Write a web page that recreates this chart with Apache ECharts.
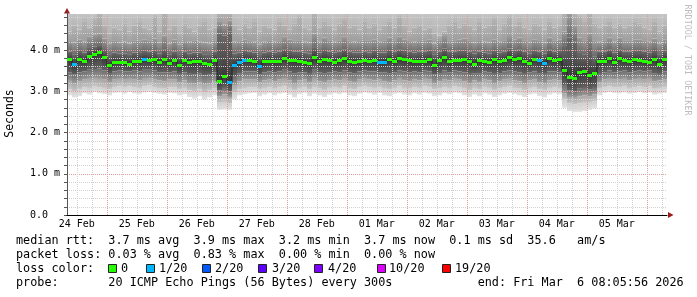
<!DOCTYPE html>
<html><head><meta charset="utf-8">
<script src="https://cdn.jsdelivr.net/npm/echarts@6/dist/echarts.min.js"></script>
<style>html,body{margin:0;padding:0;background:#fff}#c{width:697px;height:297px}</style>
</head><body><div id="c"></div>
<script>
// ---- time axis (hours since 24 Feb 00:00) ----
const startHour = 8 + 5/60 + 56/3600;   // 24 Feb 08:05:56
const spanHours = 240;                  // 10 days
const stepHours = 2;
const dayLabels = ['24 Feb','25 Feb','26 Feb','27 Feb','28 Feb','01 Mar','02 Mar','03 Mar','04 Mar','05 Mar'];
const dayLabelHours = [12,36,60,84,108,132,156,180,204,228];
const majorGridHours = [24,48,72,96,120,144,168,192,216,240];
const minorGridHours = [12,18,30,36,42,54,60,66,78,84,90,102,108,114,126,132,138,150,156,162,174,180,186,198,204,210,222,228,234,246];
const yTickValues = [0,1,2,3,4];
const yTickLabels = ['0.0','1.0 m','2.0 m','3.0 m','4.0 m'];
const yMax = 4.873;

// ---- median rtt (ms) per 2h step ----
const median = [
3.76,3.64,3.76,3.72,3.84,3.88,3.94,3.81,3.62,3.70,
3.70,3.69,3.66,3.72,3.73,3.77,3.75,3.76,3.70,3.76,
3.68,3.74,3.62,3.74,3.70,3.72,3.72,3.68,3.66,3.74,
3.23,3.35,3.22,3.63,3.70,3.75,3.74,3.72,3.60,3.71,
3.73,3.72,3.72,3.80,3.75,3.74,3.73,3.70,3.68,3.83,
3.72,3.78,3.74,3.70,3.74,3.80,3.72,3.70,3.71,3.74,
3.72,3.75,3.70,3.70,3.77,3.72,3.80,3.76,3.74,3.71,
3.73,3.73,3.76,3.62,3.74,3.82,3.72,3.74,3.75,3.76,
3.73,3.65,3.74,3.72,3.70,3.76,3.71,3.74,3.82,3.76,
3.80,3.73,3.68,3.77,3.74,3.68,3.80,3.74,3.76,3.50,
3.34,3.32,3.45,3.47,3.38,3.42,3.72,3.73,3.80,3.70,
3.80,3.74,3.73,3.76,3.75,3.73,3.70,3.78,3.66,3.76];
// lost pings out of 20
const loss = [
0,1,0,0,0,0,0,0,0,0, 0,0,0,0,0,1,0,0,0,0, 0,0,0,0,0,0,0,0,0,0,
0,0,1,1,1,1,0,0,1,0, 0,0,0,0,0,0,0,0,0,0, 0,0,0,0,0,0,0,0,0,0,
0,0,1,1,0,0,0,0,0,0, 0,0,0,0,0,0,0,0,0,0, 0,0,0,0,0,0,0,0,0,0,
0,0,0,0,1,1,0,0,0,0, 0,0,0,0,0,0,0,0,0,0, 0,0,0,0,0,0,0,0,0,0];
// smoke boundaries (ms)
const lo0 = [
2.90,2.85,2.88,2.95,2.92,2.98,2.95,2.93,2.90,2.96, 2.97,2.94,2.98,2.95,2.93,2.97,2.99,2.96,2.94,2.92,
2.96,2.95,2.90,2.93,2.86,2.82,2.88,2.80,2.85,2.90, 2.55,2.56,2.55,2.80,2.90,2.93,2.95,2.96,2.88,2.92,
2.95,2.90,2.94,2.96,2.92,2.85,2.93,2.96,2.88,2.94, 2.90,2.86,2.92,2.95,2.93,2.96,2.90,2.88,2.94,2.97,
2.95,2.92,2.96,2.90,2.88,2.94,2.96,2.92,2.90,2.95, 2.92,2.96,2.94,2.88,2.90,2.95,2.93,2.97,2.95,2.90,
2.86,2.92,2.88,2.95,2.92,2.86,2.90,2.94,2.96,2.93, 2.90,2.86,2.92,2.94,2.88,2.85,2.92,2.95,2.93,2.60,
2.52,2.50,2.50,2.52,2.55,2.58,2.90,2.96,2.98,2.96, 2.95,2.97,2.94,2.96,2.98,2.95,2.97,2.92,2.94,2.96];
const lo1 = [
3.05,3.00,3.05,3.10,3.08,3.12,3.10,3.08,3.05,3.10, 3.12,3.10,3.12,3.10,3.08,3.12,3.14,3.10,3.08,3.06,
3.10,3.10,3.05,3.08,3.02,3.00,3.04,2.98,3.02,3.06, 2.72,2.74,2.70,2.98,3.05,3.08,3.10,3.10,3.04,3.08,
3.10,3.06,3.10,3.12,3.08,3.02,3.08,3.10,3.04,3.10, 3.06,3.02,3.08,3.10,3.08,3.12,3.06,3.04,3.10,3.12,
3.10,3.08,3.10,3.06,3.04,3.08,3.12,3.08,3.06,3.10, 3.08,3.12,3.10,3.04,3.06,3.10,3.08,3.12,3.10,3.06,
3.02,3.08,3.04,3.10,3.08,3.02,3.06,3.10,3.12,3.08, 3.06,3.02,3.08,3.10,3.04,3.02,3.08,3.10,3.08,2.80,
2.70,2.68,2.70,2.72,2.74,2.76,3.06,3.10,3.12,3.10, 3.10,3.12,3.08,3.10,3.12,3.10,3.12,3.06,3.08,3.10];
const lo2 = [
3.25,3.20,3.24,3.28,3.30,3.32,3.30,3.28,3.22,3.28, 3.30,3.28,3.30,3.28,3.26,3.30,3.32,3.28,3.26,3.24,
3.28,3.28,3.22,3.26,3.20,3.18,3.22,3.16,3.20,3.24, 2.88,2.92,2.86,3.15,3.24,3.28,3.28,3.28,3.22,3.26,
3.28,3.24,3.28,3.30,3.26,3.20,3.26,3.28,3.22,3.30, 3.24,3.22,3.26,3.28,3.26,3.30,3.24,3.22,3.28,3.30,
3.28,3.26,3.28,3.24,3.22,3.26,3.30,3.26,3.24,3.28, 3.26,3.30,3.28,3.20,3.24,3.28,3.26,3.30,3.28,3.24,
3.20,3.26,3.22,3.28,3.26,3.20,3.24,3.28,3.30,3.26, 3.24,3.20,3.26,3.28,3.22,3.20,3.26,3.28,3.26,2.95,
2.86,2.84,2.88,2.90,2.88,2.92,3.22,3.28,3.30,3.28, 3.28,3.30,3.26,3.28,3.30,3.28,3.30,3.24,3.26,3.28];
const lo3 = [
3.45,3.40,3.46,3.48,3.52,3.54,3.55,3.50,3.42,3.48, 3.50,3.48,3.48,3.50,3.48,3.52,3.52,3.50,3.46,3.46,
3.46,3.48,3.42,3.46,3.42,3.40,3.44,3.38,3.40,3.46, 3.02,3.08,3.00,3.35,3.44,3.48,3.48,3.48,3.40,3.46,
3.48,3.46,3.48,3.52,3.48,3.44,3.46,3.46,3.42,3.52, 3.46,3.44,3.46,3.48,3.46,3.50,3.46,3.44,3.48,3.50,
3.48,3.48,3.46,3.46,3.44,3.46,3.50,3.48,3.46,3.48, 3.46,3.50,3.48,3.40,3.44,3.50,3.46,3.50,3.48,3.46,
3.42,3.44,3.44,3.48,3.46,3.42,3.44,3.48,3.50,3.48, 3.46,3.42,3.46,3.48,3.44,3.42,3.48,3.48,3.46,3.15,
3.02,3.00,3.06,3.08,3.04,3.08,3.42,3.46,3.50,3.46, 3.48,3.50,3.46,3.48,3.50,3.48,3.50,3.44,3.42,3.48];
const hi1 = [
3.96,3.90,3.98,3.94,4.05,4.08,4.12,4.00,3.88,3.94, 3.92,3.92,3.90,3.94,3.95,3.98,3.96,3.98,3.92,4.02,
3.90,3.96,3.88,3.96,3.92,3.94,3.94,3.90,3.88,3.96, 4.40,4.35,4.45,3.92,3.94,3.98,3.96,3.94,3.88,3.94,
3.96,3.94,3.96,4.02,3.98,3.96,3.96,3.94,3.92,4.05, 3.94,4.00,3.96,3.94,3.96,4.02,3.96,3.94,3.94,3.96,
3.94,3.98,3.94,3.94,4.00,3.96,4.02,3.98,3.96,3.94, 3.96,3.96,3.98,3.90,3.96,4.04,3.96,3.96,3.98,3.98,
3.96,3.92,3.96,3.94,3.92,3.98,3.94,3.96,4.04,3.98, 4.02,3.96,3.92,3.98,3.96,3.92,4.02,3.96,3.98,4.10,
4.30,4.20,3.95,3.90,4.05,3.85,3.96,3.96,4.02,3.94, 4.02,3.96,3.96,3.98,3.98,3.96,3.94,4.00,3.90,3.98];
const hi2 = [
4.22,4.18,4.25,4.20,4.32,4.38,4.40,4.28,4.15,4.22, 4.18,4.20,4.16,4.22,4.22,4.26,4.24,4.28,4.18,4.35,
4.16,4.25,4.14,4.24,4.20,4.22,4.20,4.18,4.15,4.22, 4.70,4.62,4.72,4.20,4.22,4.26,4.22,4.20,4.14,4.20,
4.24,4.20,4.24,4.32,4.26,4.22,4.24,4.20,4.18,4.40, 4.20,4.30,4.24,4.20,4.24,4.32,4.22,4.20,4.22,4.24,
4.22,4.26,4.20,4.22,4.30,4.24,4.32,4.26,4.22,4.20, 4.24,4.22,4.26,4.16,4.24,4.34,4.22,4.24,4.26,4.28,
4.24,4.18,4.24,4.20,4.18,4.26,4.20,4.24,4.34,4.26, 4.30,4.22,4.18,4.26,4.24,4.18,4.30,4.22,4.26,4.45,
4.90,4.60,4.30,4.24,4.40,4.22,4.20,4.22,4.30,4.20, 4.30,4.22,4.22,4.26,4.26,4.22,4.20,4.28,4.16,4.26];
const hi3 = [
4.45,4.60,4.50,4.70,4.55,4.75,4.90,4.60,4.40,4.55, 4.50,4.65,4.45,4.60,4.70,4.55,4.50,4.80,4.45,4.90,
4.50,4.60,4.40,4.65,4.55,4.45,4.60,4.70,4.50,4.55, 4.90,4.90,4.90,4.60,4.50,4.65,4.55,4.70,4.45,4.60,
4.55,4.50,4.70,4.60,4.50,4.65,4.80,4.55,4.50,4.90, 4.55,4.70,4.60,4.50,4.65,4.75,4.55,4.60,4.50,4.70,
4.55,4.65,4.50,4.60,4.70,4.55,4.80,4.60,4.45,4.55, 4.60,4.50,4.55,4.40,4.35,4.45,4.60,4.70,4.55,4.65,
4.60,4.50,4.70,4.55,4.60,4.75,4.50,4.65,4.80,4.60, 4.70,4.55,4.50,4.65,4.60,4.50,4.70,4.55,4.60,4.90,
4.90,4.90,4.80,4.70,4.90,4.65,4.55,4.60,4.70,4.55, 4.65,4.55,4.60,4.70,4.65,4.55,4.50,4.70,4.45,4.60];

// smoke band shading: [top colour, bottom colour] from lowest band to highest
const smokeShades = [
  ['#cfcfcf', '#e4e4e4'],
  ['#a6a6a6', '#c6c6c6'],
  ['#6e6e6e', '#9a9a9a'],
  ['#5a5a5a', '#585858'],
  ['#9a9a9a', '#6c6c6c'],
  ['#b2b2b2', '#9e9e9e'],
  ['#c4c4c4', '#b6b6b6']];
const lossSteps = [0,1,2,3,4,10,19];
const lossColors = ['#26ff00','#00b8ff','#0059ff','#5e00ff','#7e00ff','#dd00ff','#ff0000'];
const lossLabels = ['0','1/20','2/20','3/20','4/20','10/20','19/20'];
const lossBoxX = [109,147,203,259,315,378,443];
const lossTextX = [121,159,215,272,328,389,455];

const times = median.map((_, i) => startHour + stepHours * i + stepHours / 2);
const smokeData = times.map((t, i) => [t, lo0[i], lo1[i], lo2[i], lo3[i], hi1[i], hi2[i], hi3[i], yMax, median[i]]);
const medianData = times.map((t, i) => [t, median[i], loss[i]]);
function lossColor(l) { let c = lossColors[0]; lossSteps.forEach((s, k) => { if (l >= s) c = lossColors[k]; }); return c; }

const FONT = '"DejaVu Sans Mono", monospace';
const chart = echarts.init(document.getElementById('c'), null, {renderer: 'canvas'});

function gridSeries(hours, color) {
  return {
    type: 'custom', silent: true, z: 2, clip: false,
    data: hours.map(h => [h, 0]), encode: {x: 0, y: 1},
    renderItem: (p, api) => {
      const b = api.coord([api.value(0), 0]);
      const tp = api.coord([api.value(0), yMax]);
      const x = Math.round(b[0]) + 0.5;
      return {type: 'line', shape: {x1: x, y1: tp[1], x2: x, y2: b[1]},
        style: {stroke: color, lineWidth: 1, lineDash: [1, 1]}};
    }
  };
}

const legendLines = [
  {y: 241, text: 'median rtt:  3.7 ms avg  3.9 ms max  3.2 ms min  3.7 ms now  0.1 ms sd  35.6   am/s'},
  {y: 255, text: 'packet loss: 0.03 % avg  0.83 % max  0.00 % min  0.00 % now'},
  {y: 269, text: 'loss color:'},
  {y: 283, text: 'probe:       20 ICMP Echo Pings (56 Bytes) every 300s            end: Fri Mar  6 08:05:56 2026'}
];
const graphics = [];
legendLines.forEach(l => graphics.push({type: 'text', x: 16, y: l.y,
  style: {text: l.text, font: '11.8px ' + FONT, fill: '#000', verticalAlign: 'middle', textVerticalAlign: 'middle'}}));
lossLabels.forEach((lab, k) => {
  graphics.push({type: 'rect', shape: {x: lossBoxX[k] - 0.5, y: 264.5, width: 8, height: 8},
    style: {fill: lossColors[k], stroke: '#222', lineWidth: 1}});
  graphics.push({type: 'text', x: lossTextX[k], y: 269,
    style: {text: lab, font: '11.8px ' + FONT, fill: '#000', verticalAlign: 'middle', textVerticalAlign: 'middle'}});
});
graphics.push({type: 'text', x: 10.5, y: 113.5, rotation: Math.PI / 2,
  style: {text: 'Seconds', font: '11.5px ' + FONT, fill: '#000', align: 'center', textAlign: 'center', verticalAlign: 'middle', textVerticalAlign: 'middle'}});
graphics.push({type: 'text', x: 687, y: 60, rotation: -Math.PI / 2,
  style: {text: 'RRDTOOL / TOBI OETIKER', font: '8.4px ' + FONT, fill: '#bdbdbd', align: 'center', textAlign: 'center', verticalAlign: 'middle', textVerticalAlign: 'middle'}});
graphics.push({type: 'polygon', shape: {points: [[64, 13.5], [70, 13.5], [67, 8]]}, style: {fill: '#9a1b1b'}});
graphics.push({type: 'line', shape: {x1: 67.5, y1: 12, x2: 67.5, y2: 15}, style: {stroke: '#555', lineWidth: 1}});
graphics.push({type: 'polygon', shape: {points: [[668, 212], [668, 218], [673.5, 215]]}, style: {fill: '#9a1b1b'}});

function vGrad(top, bottom, mid) {
  const stops = mid ? [{offset: 0, color: top}, {offset: mid[0], color: mid[1]}, {offset: 1, color: bottom}]
                    : [{offset: 0, color: top}, {offset: 1, color: bottom}];
  return new echarts.graphic.LinearGradient(0, 0, 0, 1, stops);
}

chart.setOption({
  animation: false,
  backgroundColor: '#ffffff',
  grid: {left: 67, right: 30, top: 14, bottom: 82, containLabel: false, outerBoundsMode: 'none'},
  xAxis: {
    type: 'value', min: startHour, max: startHour + spanHours, z: 3,
    axisLine: {show: true, onZero: false, lineStyle: {color: '#000', width: 1}},
    axisTick: {show: false},
    splitLine: {show: false},
    axisLabel: {customValues: dayLabelHours, margin: 4, fontFamily: '"DejaVu Sans Mono"', fontSize: 10, color: '#000',
      formatter: v => { const k = dayLabelHours.findIndex(h => Math.abs(h - v) < 1e-6); return k >= 0 ? dayLabels[k] : ''; }}
  },
  yAxis: {
    type: 'value', min: 0, max: yMax, interval: 0.2, z: 2,
    axisLine: {show: true, lineStyle: {color: '#555', width: 1}},
    axisTick: {show: true, length: 3, lineStyle: {color: '#555'}},
    splitLine: {show: true, showMaxLine: false,
      lineStyle: {color: ['#e29c9c', '#d2d2d2', '#d2d2d2', '#d2d2d2', '#d2d2d2'], type: [1, 1], width: 1}},
    axisLabel: {align: 'left', margin: 37, fontFamily: '"DejaVu Sans Mono"', fontSize: 10, color: '#000', showMaxLabel: false,
      formatter: v => { const k = yTickValues.findIndex(t => Math.abs(t - v) < 1e-6); return k >= 0 ? yTickLabels[k] : ''; }}
  },
  graphic: graphics,
  series: [
    {
      type: 'custom', silent: true, z: 1, clip: true,
      data: smokeData, encode: {x: 0, y: [1, 2, 3, 4, 5, 6, 7, 8]},
      renderItem: (p, api) => {
        const t = api.value(0);
        const xa = Math.round(api.coord([t - stepHours / 2, 0])[0]);
        const xb = Math.round(api.coord([t + stepHours / 2, 0])[0]);
        const children = [];
        for (let k = 1; k < 8; k++) {
          const lo = api.value(k), hi = Math.min(api.value(k + 1), yMax);
          const y0 = api.coord([t, lo])[1];
          const y1 = api.coord([t, hi])[1];
          if (y0 - y1 <= 0) continue;
          const sh = smokeShades[k - 1];
          let fill;
          if (k === 4) {
            const m = api.value(9);
            const f = Math.max(0.05, Math.min(0.95, (hi - m) / (hi - lo)));
            fill = vGrad('#6a6a6a', '#626262', [f, '#383838']);
          } else {
            fill = vGrad(sh[0], sh[1]);
          }
          children.push({type: 'rect', shape: {x: xa, y: y1, width: xb - xa, height: y0 - y1}, style: {fill}});
        }
        return {type: 'group', children};
      }
    },
    gridSeries(minorGridHours, '#d2d2d2'),
    gridSeries(majorGridHours, '#e29c9c'),
    {
      type: 'line', z: 3, step: 'middle', symbol: 'none', silent: true,
      data: medianData.map(d => [d[0], d[1]]),
      lineStyle: {color: '#202020', width: 1}
    },
    {
      type: 'custom', silent: true, z: 4,
      data: medianData, encode: {x: 0, y: 1},
      renderItem: (p, api) => {
        const t = api.value(0);
        const xa = Math.round(api.coord([t - stepHours / 2, 0])[0]);
        const xb = Math.round(api.coord([t + stepHours / 2, 0])[0]);
        const yc = api.coord([t, api.value(1)])[1];
        const y0 = Math.round(yc - 1.5);
        return {type: 'rect', shape: {x: xa, y: y0, width: xb - xa, height: 3},
          style: {fill: lossColor(api.value(2))}};
      }
    }
  ]
});
</script></body></html>
